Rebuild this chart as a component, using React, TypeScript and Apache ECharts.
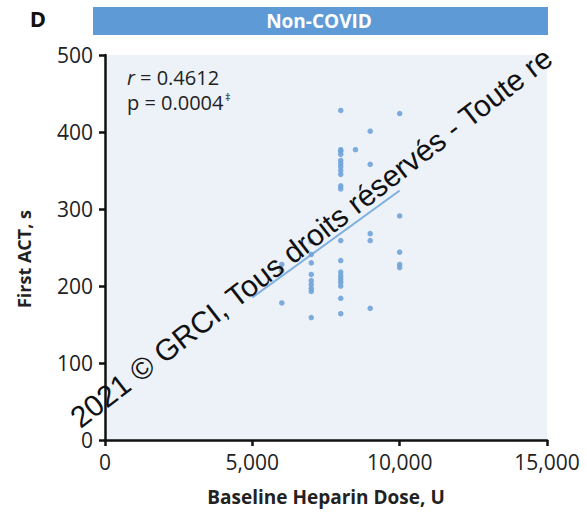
import React, { useEffect, useRef } from "react";
import * as echarts from "echarts";

const doseCol6000 = [228, 220, 178];
const doseCol7000 = [258, 241, 230, 215, 207, 202, 197, 193, 159];
const doseCol8000 = [428, 377, 375, 371, 363, 359, 355, 350, 345, 330, 326, 259, 233, 218, 213, 209, 205, 200, 184, 164];
const doseCol8500 = [377];
const doseCol9000 = [401, 358, 268, 259, 171];
const doseCol10000 = [424, 291, 244, 228, 224];
const regressionLine = [
  [5000, 185],
  [10000, 324],
];
const xTicks = [0, 5000, 10000, 15000];
const yTicks = [0, 100, 200, 300, 400, 500];

const columns: [number, number[]][] = [
  [6000, doseCol6000],
  [7000, doseCol7000],
  [8000, doseCol8000],
  [8500, doseCol8500],
  [9000, doseCol9000],
  [10000, doseCol10000],
];

export default function App() {
  const ref = useRef<HTMLDivElement>(null);
  useEffect(() => {
    if (!ref.current) return;
    const chart = echarts.init(ref.current, null, { renderer: "svg" });
    const pts: number[][] = [];
    columns.forEach(([x, ys]) => ys.forEach((y) => pts.push([x, y])));
    const font = "'Open Sans', 'Noto Sans', sans-serif";
    const statText = (x: number, y: number, text: string, extra: any = {}) => ({
      type: "text",
      x,
      y,
      style: {
        text,
        fill: "#222",
        fontSize: 20,
        fontFamily: font,
        textAlign: "left",
        textVerticalAlign: "middle",
        ...extra,
      },
    });
    chart.setOption({
      animation: false,
      grid: {
        left: 105,
        right: 40,
        top: 55,
        bottom: 72,
        show: true,
        backgroundColor: "#edf2f9",
        borderWidth: 0,
      },
      xAxis: {
        type: "value",
        min: xTicks[0],
        max: xTicks[xTicks.length - 1],
        interval: 5000,
        splitLine: { show: false },
        axisLine: { show: true, lineStyle: { color: "#111", width: 2.5 } },
        axisTick: { show: true, length: 6, lineStyle: { color: "#111", width: 2.5 } },
        axisLabel: {
          fontSize: 21,
          color: "#222",
          fontFamily: font,
          margin: 11,
          formatter: (v: number) => v.toLocaleString("en-US"),
        },
        name: "Baseline Heparin Dose, U",
        nameLocation: "middle",
        nameGap: 47,
        nameTextStyle: { fontSize: 19, fontWeight: "bold", color: "#222", fontFamily: font },
      },
      yAxis: {
        type: "value",
        min: yTicks[0],
        max: yTicks[yTicks.length - 1],
        interval: 100,
        splitLine: { show: false },
        axisLine: { show: true, lineStyle: { color: "#111", width: 2.5 } },
        axisTick: { show: true, length: 6, lineStyle: { color: "#111", width: 2.5 } },
        axisLabel: { fontSize: 21, color: "#222", fontFamily: font, margin: 12 },
      },
      series: [
        {
          type: "line",
          data: regressionLine,
          symbol: "none",
          lineStyle: { color: "#7fb0e0", width: 2 },
          z: 2,
        },
        {
          type: "scatter",
          data: pts,
          symbolSize: 5.5,
          itemStyle: { color: "#6fa3d8", opacity: 0.9 },
          z: 3,
        },
      ],
      graphic: [
        {
          type: "rect",
          shape: { x: 93, y: 7, width: 455, height: 28 },
          style: { fill: "#5e9bd6" },
        },
        {
          type: "text",
          x: 319,
          y: 21,
          style: {
            text: "Non-COVID",
            fill: "#fff",
            fontSize: 19,
            fontWeight: "bold",
            fontFamily: font,
            textAlign: "center",
            textVerticalAlign: "middle",
          },
        },
        {
          type: "text",
          x: 38,
          y: 18,
          style: {
            text: "D",
            fill: "#111",
            fontSize: 22,
            fontWeight: "bold",
            fontFamily: font,
            textAlign: "center",
            textVerticalAlign: "middle",
          },
        },
        {
          type: "text",
          x: 24,
          y: 259,
          rotation: Math.PI / 2,
          style: {
            text: "First ACT, s",
            fill: "#222",
            fontSize: 18,
            fontWeight: "bold",
            fontFamily: font,
            textAlign: "center",
            textVerticalAlign: "middle",
          },
        },
        statText(127, 77, "r", { fontStyle: "italic" }),
        statText(140, 77, "= 0.4612"),
        statText(127, 102, "p = 0.0004"),
        statText(225, 96, "‡", { fontSize: 11 }),
        {
          type: "text",
          x: 74,
          y: 421,
          rotation: (37.7 * Math.PI) / 180,
          style: {
            text: "2021 © GRCI, Tous droits réservés - Toute re",
            fill: "#111",
            fontSize: 30,
            fontFamily: "'Liberation Sans', Arial, sans-serif",
            textAlign: "left",
            textVerticalAlign: "middle",
          },
          z: 100,
        },
      ],
    });
    return () => chart.dispose();
  }, []);
  return (
    <div
      ref={ref}
      style={{ position: "absolute", left: 0, top: 0, width: 587, height: 512 }}
    />
  );
}
